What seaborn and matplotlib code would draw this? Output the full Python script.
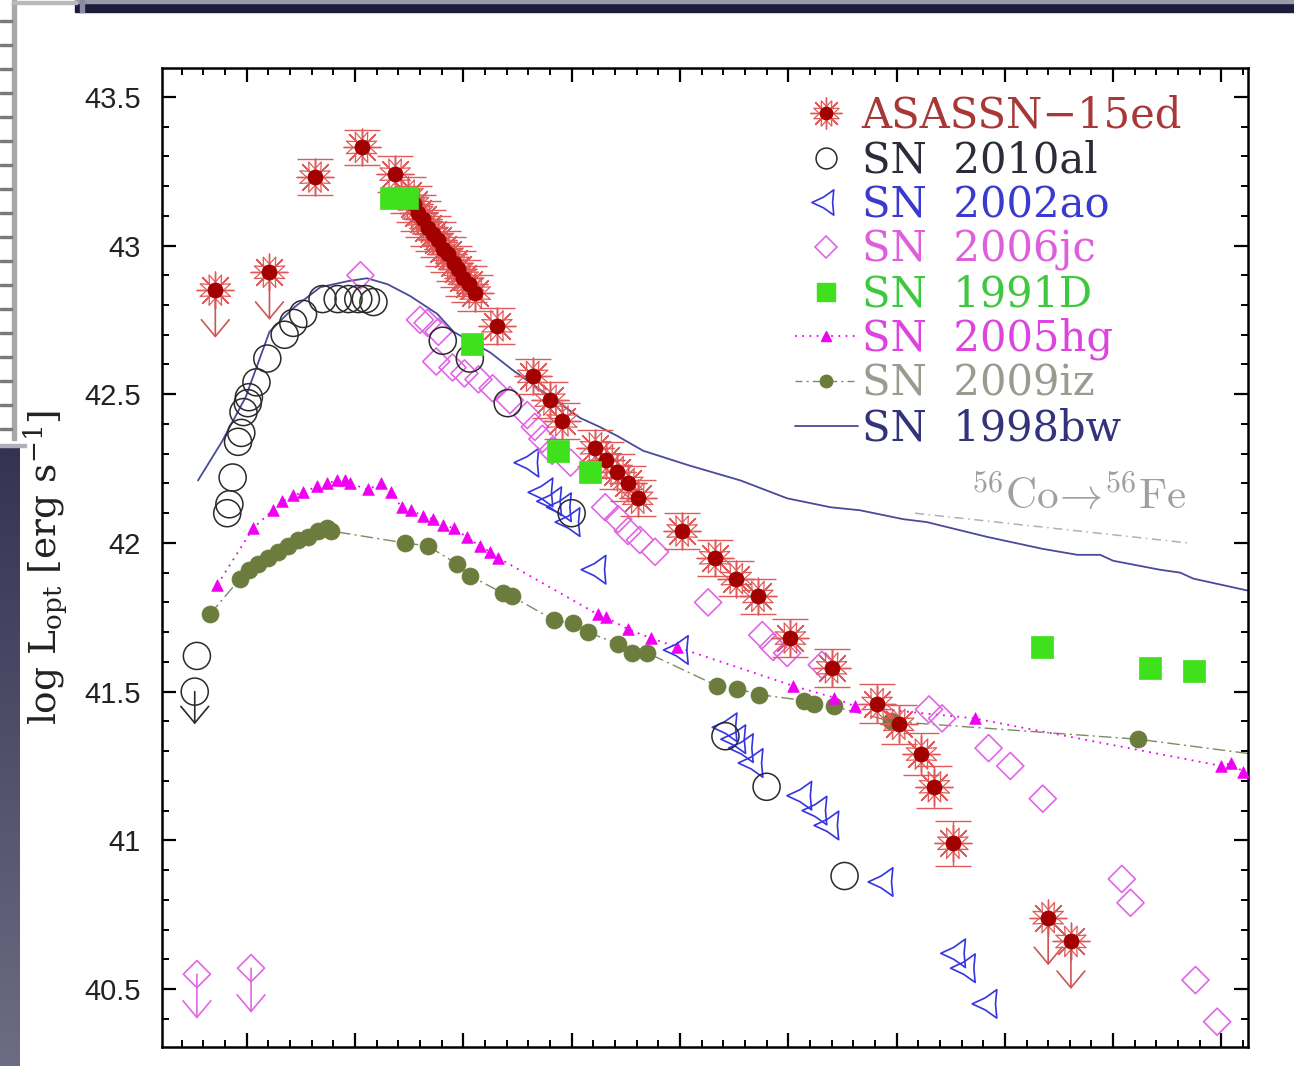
import numpy as np
import pandas as pd
import matplotlib
matplotlib.use("Agg")
import matplotlib.pyplot as plt
import seaborn as sns
from matplotlib.lines import Line2D
from matplotlib.path import Path
from matplotlib.patches import Rectangle
from matplotlib.legend_handler import HandlerTuple
from matplotlib.ticker import MultipleLocator, NullFormatter

# ---------------------------------------------------------------- data
# days from maximum, log optical luminosity [erg/s]
asn_day = [-3.7, 0.6, 3.7, 4.9, 5.4, 5.8, 6.3, 6.7, 7.2, 7.7, 8.1, 8.6, 9.1,
           9.5, 10.0, 10.5, 11.1, 13.1, 16.4, 18.0, 19.1, 22.2, 23.2, 24.2,
           25.2, 26.1, 30.2, 33.2, 35.2, 37.2, 40.2, 44.0, 48.2, 50.2, 52.3,
           53.5, 55.2]
asn_lum = [43.23, 43.33, 43.24, 43.17, 43.14, 43.11, 43.09, 43.06, 43.04,
           43.02, 42.99, 42.97, 42.94, 42.92, 42.89, 42.87, 42.84, 42.73,
           42.56, 42.48, 42.41, 42.32, 42.28, 42.24, 42.20, 42.15, 42.04,
           41.95, 41.88, 41.82, 41.68, 41.58, 41.46, 41.39, 41.29, 41.18,
           40.99]
asn_err = [0.06] * 30 + [0.065, 0.065, 0.065, 0.065, 0.07, 0.07, 0.075]
asn_lim_day = [-12.9, -7.9, 64.0, 66.1]
asn_lim_lum = [42.85, 42.91, 40.74, 40.66]

al_day = [-14.6, -11.8, -11.6, -11.3, -10.8, -10.5, -10.3, -9.9, -9.8, -9.1,
          -8.1, -6.5, -5.7, -4.8, -3.0, -1.6, -0.6, 0.3, 1.0, 1.7, 8.1, 10.6,
          14.1, 20.0, 34.2, 38.0, 45.2]
al_lum = [41.62, 42.10, 42.13, 42.22, 42.34, 42.37, 42.44, 42.47, 42.49,
          42.54, 42.62, 42.70, 42.74, 42.77, 42.82, 42.82, 42.82, 42.82,
          42.82, 42.81, 42.68, 42.62, 42.47, 42.10, 41.35, 41.18, 40.88]
al_lim_day = [-14.8]
al_lim_lum = [41.50]

ao_day = [16.2, 17.5, 18.3, 19.2, 20.0, 22.4, 30.0, 34.5, 35.3, 36.0, 36.9,
          41.4, 42.8, 43.9, 48.9, 55.6, 56.5, 58.5]
ao_lum = [42.27, 42.17, 42.14, 42.12, 42.07, 41.91, 41.64, 41.38, 41.34,
          41.31, 41.26, 41.15, 41.10, 41.05, 40.86, 40.62, 40.57, 40.45]

jc_day = [0.5, 6.0, 6.7, 7.7, 7.5, 9.0, 10.1, 11.4, 12.7, 14.3, 15.9, 16.6,
          17.3, 18.2, 19.9, 23.1, 24.3, 25.2, 26.3, 27.7, 32.6, 37.6, 38.6,
          39.9, 43.1, 53.0, 54.2, 58.5, 60.5, 63.5, 70.8, 71.6, 77.6, 79.6]
jc_lum = [42.90, 42.75, 42.74, 42.71, 42.61, 42.59, 42.57, 42.55, 42.52,
          42.48, 42.43, 42.39, 42.35, 42.31, 42.27, 42.12, 42.08, 42.04,
          42.01, 41.97, 41.80, 41.69, 41.65, 41.63, 41.59, 41.44, 41.41,
          41.31, 41.25, 41.14, 40.87, 40.79, 40.53, 40.39]
jc_lim_day = [-14.6, -9.6]
jc_lim_lum = [40.55, 40.57]

d91_day = [3.3, 4.8, 10.8, 18.7, 21.7, 63.4, 73.4, 77.5]
d91_lum = [43.16, 43.16, 42.67, 42.31, 42.24, 41.65, 41.58, 41.57]

hg_day = [-12.7, -9.4, -7.6, -6.7, -5.7, -4.8, -3.5, -2.6, -1.7, -0.9, -0.5,
          1.2, 2.4, 3.3, 4.3, 5.2, 6.3, 7.2, 8.1, 9.1, 10.3, 11.5, 12.5,
          13.2, 22.4, 23.2, 25.2, 27.3, 29.7, 40.4, 44.2, 46.2, 57.2, 80.0,
          80.9, 82.0]
hg_lum = [41.86, 42.05, 42.11, 42.14, 42.16, 42.17, 42.19, 42.20, 42.21,
          42.21, 42.20, 42.18, 42.20, 42.17, 42.12, 42.11, 42.09, 42.08,
          42.06, 42.05, 42.02, 41.99, 41.97, 41.95, 41.76, 41.75, 41.71,
          41.68, 41.65, 41.52, 41.48, 41.45, 41.41, 41.25, 41.26, 41.23]

iz_day = [-13.4, -10.6, -9.8, -9.0, -8.0, -7.1, -6.2, -5.3, -4.3, -3.4, -2.6,
          -2.2, 4.6, 6.7, 9.4, 10.6, 13.7, 14.5, 18.4, 20.1, 21.5, 24.3, 25.6,
          27.0, 33.4, 35.3, 37.3, 41.5, 42.4, 44.2, 49.5, 72.3, 85.0]
iz_lum = [41.76, 41.88, 41.91, 41.93, 41.95, 41.97, 41.99, 42.01, 42.02,
          42.04, 42.05, 42.04, 42.00, 41.99, 41.93, 41.89, 41.83, 41.82,
          41.74, 41.73, 41.70, 41.66, 41.63, 41.63, 41.52, 41.51, 41.49,
          41.47, 41.46, 41.45, 41.40, 41.34, 41.28]

bw_day = [-14.5, -12.3, -10.1, -7.9, -5.7, -3.2, -0.7, 1.1, 3.0, 5.1, 7.6,
          9.1, 12.5, 14.6, 17.7, 20.8, 22.6, 24.2, 26.6, 30.9, 35.6, 39.9,
          43.9, 46.6, 50.6, 52.8, 58.4, 63.5, 66.7, 68.8, 70.0, 74.3, 76.2,
          77.4, 82.4]
bw_lum = [42.21, 42.34, 42.49, 42.71, 42.79, 42.86, 42.88, 42.89, 42.87,
          42.83, 42.77, 42.71, 42.64, 42.58, 42.50, 42.42, 42.39, 42.36,
          42.31, 42.26, 42.21, 42.15, 42.12, 42.11, 42.08, 42.07, 42.02,
          41.98, 41.96, 41.96, 41.94, 41.91, 41.90, 41.88, 41.84]

co_day = [51.7, 76.9]
co_lum = [42.10, 42.00]

labels = ["ASASSN\u221215ed", "SN  2010al", "SN  2002ao", "SN  2006jc",
          "SN  1991D", "SN  2005hg", "SN  2009iz", "SN  1998bw"]

# ---------------------------------------------------------------- style
RED_DOT = "#a30000"
RED_SPOKE = "#e05a5a"
BLACK = "#2a2a2a"
BLUE = "#3434e0"
ORCHID = "#e066e6"
GREEN = "#3fe01c"
MAGENTA = "#f000f0"
OLIVE = "#6c7c3c"
NAVY = "#4a4a9c"
label_colors = ["#a83838", "#2b2b3a", "#3a3ad0", "#de5ede", "#3ec83e",
                "#dd44dd", "#9a9a8e", "#33337c"]

sns.set_theme(style="ticks")
plt.rcParams["font.family"] = ["DejaVu Sans"]
plt.rcParams["mathtext.fontset"] = "dejavuserif"

W, H = 1294, 1066
fig = plt.figure(figsize=(W / 100, H / 100), dpi=100)
fig.patch.set_facecolor("white")


def fx(px):
    return px / W


def fy(py):
    return 1 - py / H


# slide frame around the plot
fig.patches.append(Rectangle((fx(75), fy(12)), fx(W - 75), 12 / H,
                             transform=fig.transFigure, color="#1c1c3c", zorder=0))
fig.patches.append(Rectangle((fx(75), fy(3)), fx(W - 75), 3 / H,
                             transform=fig.transFigure, color="#9a9aa8", zorder=0))
fig.patches.append(Rectangle((fx(80), fy(12)), 4 / W, 12 / H,
                             transform=fig.transFigure, color="#8a8aa0", zorder=0))
fig.patches.append(Rectangle((fx(12), fy(440)), 4 / W, 440 / H,
                             transform=fig.transFigure, color="#a8a8a8", zorder=0))
fig.patches.append(Rectangle((fx(12), fy(4)), fx(65), 3 / H,
                             transform=fig.transFigure, color="#b8b8b8", zorder=0))
for ty in range(22, 440, 24):
    fig.patches.append(Rectangle((0, fy(ty)), fx(12), 2 / H,
                                 transform=fig.transFigure, color="#7a7a7a", zorder=0))
side = fig.add_axes([0, 0, fx(20), (H - 446) / H])
side.imshow(np.linspace(0, 1, 200)[:, None], aspect="auto",
            cmap=matplotlib.colors.LinearSegmentedColormap.from_list(
                "slide", ["#343452", "#6c6c84"]))
side.set_axis_off()
fig.patches.append(Rectangle((0, fy(447)), fx(26), 3 / H,
                             transform=fig.transFigure, color="#b0b0bc", zorder=0))

ax = fig.add_axes([fx(161.7), fy(1047), fx(1248 - 161.7), (1047 - 68.3) / H])
ax.set_facecolor("white")

# ---------------------------------------------------------------- curves
sns.lineplot(x=bw_day, y=bw_lum, ax=ax, sort=False, estimator=None,
             color=NAVY, lw=1.3, zorder=2)
sns.lineplot(x=co_day, y=co_lum, ax=ax, sort=False, estimator=None,
             color="#b0b0b0", lw=1.1, linestyle=(0, (6, 3, 1, 3)), zorder=2)
sns.lineplot(x=iz_day, y=iz_lum, ax=ax, sort=False, estimator=None,
             color="#7d8a62", lw=1.0, linestyle=(0, (9, 3, 1.5, 3)), zorder=2)
sns.scatterplot(x=iz_day, y=iz_lum, ax=ax, color=OLIVE, edgecolor=OLIVE,
                s=150, marker="o", linewidth=0.5, zorder=3)
sns.lineplot(x=hg_day, y=hg_lum, ax=ax, sort=False, estimator=None,
             color=MAGENTA, lw=1.3, linestyle=(0, (1, 3)), zorder=2)
sns.scatterplot(x=hg_day, y=hg_lum, ax=ax, color=MAGENTA, edgecolor=MAGENTA,
                s=70, marker="^", linewidth=0.5, zorder=3)

# concave three-point marker pointing left
ang = np.deg2rad([180, 240, 300, 0, 60, 120])
rad = np.array([1.0, 0.42, 1.0, 0.42, 1.0, 0.42])
verts = np.column_stack([rad * np.cos(ang), rad * np.sin(ang)])
tri_left = Path(np.vstack([verts, verts[:1]]),
                [Path.MOVETO] + [Path.LINETO] * 5 + [Path.CLOSEPOLY])

sns.scatterplot(x=ao_day, y=ao_lum, ax=ax, marker=tri_left, s=560,
                color=BLUE, facecolor="none", edgecolor=BLUE, linewidth=1.2,
                zorder=4)
sns.scatterplot(x=jc_day, y=jc_lum, ax=ax, marker="D", s=190,
                color=ORCHID, facecolor="none", edgecolor=ORCHID,
                linewidth=1.2, zorder=4)
sns.scatterplot(x=jc_lim_day, y=jc_lim_lum, ax=ax, marker="D", s=190,
                color=ORCHID, facecolor="none", edgecolor=ORCHID,
                linewidth=1.2, zorder=4)
sns.scatterplot(x=al_day, y=al_lum, ax=ax, marker="o", s=380,
                color=BLACK, facecolor="none", edgecolor=BLACK,
                linewidth=1.1, zorder=4)
sns.scatterplot(x=al_lim_day, y=al_lim_lum, ax=ax, marker="o", s=380,
                color=BLACK, facecolor="none", edgecolor=BLACK,
                linewidth=1.1, zorder=4)

ax.errorbar(asn_day, asn_lum, yerr=asn_err, fmt="none", ecolor=RED_SPOKE,
            elinewidth=1.0, capsize=13, capthick=1.0, zorder=5)
for dd, ll in ((asn_day, asn_lum), (asn_lim_day, asn_lim_lum)):
    sns.scatterplot(x=dd, y=ll, ax=ax, marker=(8, 1, 22.5), s=560,
                    color=RED_SPOKE, facecolor="none", edgecolor=RED_SPOKE,
                    linewidth=0.9, zorder=5)
    sns.scatterplot(x=dd, y=ll, ax=ax, marker=(8, 2, 0), s=700,
                    color=RED_SPOKE, linewidth=1.0, zorder=5)
    sns.scatterplot(x=dd, y=ll, ax=ax, marker="o", s=120, color=RED_DOT,
                    edgecolor=RED_DOT, linewidth=0.5, zorder=6)

sns.scatterplot(x=d91_day, y=d91_lum, ax=ax, marker="s", s=270,
                color=GREEN, edgecolor=GREEN, linewidth=0.5, zorder=7)


def limit_arrows(days, lums, drop, color):
    for d, l in zip(days, lums):
        ax.annotate("", xy=(d, l - drop), xytext=(d, l),
                    arrowprops=dict(arrowstyle="->,head_length=0.6,head_width=0.5",
                                    color=color, lw=1.2, shrinkA=0, shrinkB=0,
                                    mutation_scale=20), zorder=5)


limit_arrows(asn_lim_day, asn_lim_lum, 0.16, "#cc5555")
limit_arrows(al_lim_day, al_lim_lum, 0.11, BLACK)
limit_arrows(jc_lim_day, jc_lim_lum, 0.15, ORCHID)

ax.text(np.mean(co_day) + 2.5, co_lum[0] + 0.055,
        r"$^{56}\mathrm{Co}\!\rightarrow\!^{56}\mathrm{Fe}$",
        math_fontfamily="cm", fontsize=31, color="#a0a0a0",
        ha="center", va="center", zorder=2)

# ---------------------------------------------------------------- axes
ax.set_xlim(-17.85, 82.45)
ax.set_ylim(40.305, 43.596)
ax.xaxis.set_major_locator(MultipleLocator(10))
ax.xaxis.set_minor_locator(MultipleLocator(2))
ax.yaxis.set_major_locator(MultipleLocator(0.5))
ax.yaxis.set_minor_locator(MultipleLocator(0.1))
ax.xaxis.set_major_formatter(NullFormatter())
ax.set_yticks([40.5, 41, 41.5, 42, 42.5, 43, 43.5])
ax.set_yticklabels(["40.5", "41", "41.5", "42", "42.5", "43", "43.5"],
                   fontfamily="Liberation Sans", fontsize=21, color="#222222")
ax.tick_params(which="both", direction="in", top=True, right=True,
               bottom=True, left=True, color="black")
ax.tick_params(which="major", length=10, width=1.6, pad=15)
ax.tick_params(which="minor", length=5, width=1.4)
for sp in ax.spines.values():
    sp.set_linewidth(1.8)
    sp.set_color("black")

ax.set_ylabel(r"log L$_{\rm opt}$ [erg s$^{-1}$]", fontsize=27,
              fontfamily="DejaVu Serif", color="#222222")
ax.yaxis.set_label_coords(-0.085, 0.49)
ax.set_xlabel("")

# ---------------------------------------------------------------- legend
h_asn = (Line2D([], [], ls="none", marker=(8, 1, 22.5), ms=20, mfc="none",
                mec=RED_SPOKE, mew=0.9),
         Line2D([], [], ls="none", marker=(8, 2, 0), ms=23, mec=RED_SPOKE, mew=1.0),
         Line2D([], [], ls="none", marker="o", ms=9, mfc=RED_DOT, mec=RED_DOT))
h_al = Line2D([], [], ls="none", marker="o", ms=15, mfc="none", mec=BLACK, mew=1.1)
h_ao = Line2D([], [], ls="none", marker=tri_left, ms=21, mfc="none", mec=BLUE, mew=1.2)
h_jc = Line2D([], [], ls="none", marker="D", ms=11, mfc="none", mec=ORCHID, mew=1.2)
h_d91 = Line2D([], [], ls="none", marker="s", ms=13, mfc=GREEN, mec=GREEN)
h_hg = Line2D([], [], ls=(0, (1, 3)), lw=1.3, color=MAGENTA, marker="^", ms=7)
h_iz = Line2D([], [], ls=(0, (5, 3, 1.5, 3)), lw=1.0, color="#7d8a62",
              marker="o", ms=9, mfc=OLIVE, mec=OLIVE)
h_bw = Line2D([], [], ls="-", lw=1.3, color=NAVY)
leg = ax.legend([h_asn, h_al, h_ao, h_jc, h_d91, h_hg, h_iz, h_bw], labels,
                loc="upper left", bbox_to_anchor=(fx(795), fy(95)),
                bbox_transform=fig.transFigure, frameon=False,
                prop={"family": "DejaVu Serif", "size": 30},
                handlelength=1.5, handletextpad=0.1, labelspacing=0.06,
                borderpad=0, borderaxespad=0,
                handler_map={tuple: HandlerTuple(ndivide=1)})
for t, c in zip(leg.get_texts(), label_colors):
    t.set_color(c)

fig.savefig("out.png", dpi=100)
